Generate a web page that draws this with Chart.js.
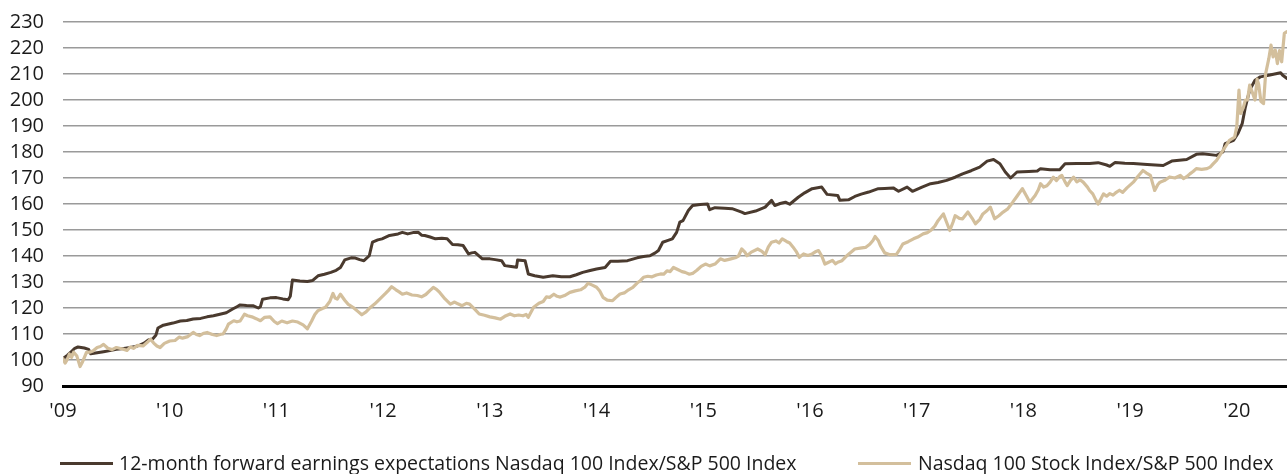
<!DOCTYPE html>
<html>
<head>
<meta charset="utf-8">
<script src="https://cdn.jsdelivr.net/npm/chart.js@4.4.1/dist/chart.umd.min.js"></script>
<style>
  html, body { margin: 0; padding: 0; background: #ffffff; }
  #wrap { position: relative; width: 1287px; height: 474px; overflow: hidden; }
  #c { position: absolute; left: 0; top: 0; }
  .lg-line { position: absolute; height: 3px; width: 53px; }
  .lg-text { position: absolute; font-family: "Open Sans", "Noto Sans", sans-serif; font-size: 19.5px; color: #1a1a1a; white-space: nowrap; line-height: 24px; }
</style>
</head>
<body>
<div id="wrap">
  <canvas id="c" width="1287" height="474"></canvas>
  <div class="lg-line" id="lgl1" style="left:60px; top:462px; background:#4a3a2e;"></div>
  <div class="lg-text" id="lgt1" style="left:119px; top:451px;"></div>
  <div class="lg-line" id="lgl2" style="left:858px; top:462px; background:#d3bf9c;"></div>
  <div class="lg-text" id="lgt2" style="left:918px; top:451px;"></div>
</div>
<script>
const seriesNames = [
  "12-month forward earnings expectations Nasdaq 100 Index/S&P 500 Index",
  "Nasdaq 100 Stock Index/S&P 500 Index"
];
const yTicks = [90,100,110,120,130,140,150,160,170,180,190,200,210,220,230];
const xTickYears = [2009,2010,2011,2012,2013,2014,2015,2016,2017,2018,2019,2020];

const earningsDates = [2009.00,2009.04,2009.07,2009.11,2009.14,2009.20,2009.24,2009.26,2009.32,2009.38,2009.44,2009.50,2009.57,2009.63,2009.68,2009.72,2009.76,2009.80,2009.84,2009.87,2009.89,2009.94,2010.03,2010.10,2010.16,2010.22,2010.29,2010.35,2010.41,2010.47,2010.53,2010.59,2010.63,2010.66,2010.72,2010.78,2010.83,2010.85,2010.87,2010.94,2011.00,2011.06,2011.11,2011.13,2011.15,2011.22,2011.29,2011.34,2011.39,2011.45,2011.51,2011.56,2011.60,2011.64,2011.70,2011.74,2011.78,2011.82,2011.87,2011.90,2011.95,2011.99,2012.06,2012.10,2012.14,2012.18,2012.23,2012.28,2012.33,2012.36,2012.39,2012.44,2012.49,2012.55,2012.60,2012.65,2012.70,2012.75,2012.80,2012.83,2012.86,2012.93,2013.00,2013.05,2013.11,2013.14,2013.20,2013.25,2013.26,2013.33,2013.36,2013.42,2013.50,2013.59,2013.67,2013.75,2013.81,2013.87,2013.94,2014.00,2014.08,2014.13,2014.20,2014.29,2014.38,2014.44,2014.50,2014.55,2014.58,2014.62,2014.67,2014.71,2014.75,2014.78,2014.81,2014.86,2014.90,2014.97,2015.04,2015.06,2015.11,2015.20,2015.27,2015.36,2015.39,2015.49,2015.58,2015.64,2015.67,2015.72,2015.77,2015.81,2015.89,2015.95,2016.02,2016.11,2016.16,2016.26,2016.28,2016.36,2016.42,2016.48,2016.55,2016.64,2016.70,2016.78,2016.83,2016.91,2016.96,2017.05,2017.13,2017.20,2017.28,2017.36,2017.43,2017.51,2017.59,2017.66,2017.72,2017.78,2017.83,2017.88,2017.94,2018.05,2018.13,2018.16,2018.25,2018.34,2018.39,2018.50,2018.62,2018.70,2018.78,2018.81,2018.86,2018.95,2019.03,2019.16,2019.31,2019.39,2019.53,2019.62,2019.68,2019.81,2019.87,2019.89,2019.97,2020.01,2020.05,2020.08,2020.12,2020.17,2020.22,2020.31,2020.41,2020.43,2020.47];
const earningsValues = [100.5,101.8,102.9,104.5,105.0,104.6,104.1,102.4,102.8,103.2,103.6,104.1,104.4,104.8,105.2,105.7,106.5,107.7,108.1,109.5,112.3,113.4,114.2,115.0,115.2,115.8,116.0,116.6,117.0,117.6,118.2,119.6,120.5,121.2,121.0,120.9,120.0,120.5,123.4,123.9,124.0,123.5,123.2,124.5,130.8,130.4,130.2,130.6,132.4,133.0,133.7,134.5,135.6,138.5,139.3,139.2,138.6,138.2,140.1,145.3,146.2,146.6,147.9,148.2,148.5,149.1,148.5,149.0,149.1,148.0,147.9,147.3,146.6,146.8,146.6,144.4,144.3,144.0,140.8,141.2,141.4,138.9,138.9,138.6,138.2,136.3,136.0,135.7,138.5,138.2,133.1,132.4,131.8,132.4,132.0,132.0,132.8,133.7,134.4,135.0,135.6,138.0,138.0,138.2,139.3,139.8,140.1,141.2,142.1,145.3,146.0,146.6,149.1,153.0,153.6,157.5,159.4,159.8,160.0,157.8,158.6,158.4,158.2,156.9,156.3,157.3,158.8,161.4,159.4,160.2,160.7,159.9,162.6,164.3,165.9,166.5,163.7,163.3,161.4,161.6,162.9,163.8,164.6,165.9,166.0,166.2,164.9,166.5,164.9,166.5,167.8,168.3,169.1,170.3,171.6,172.8,174.2,176.5,177.1,175.5,172.3,170.0,172.3,172.5,172.7,173.6,173.2,173.2,175.5,175.6,175.6,175.9,175.0,174.5,176.0,175.7,175.6,175.2,174.8,176.5,177.1,179.1,179.3,178.7,180.0,183.2,184.5,187.1,190.9,197.3,203.8,207.6,208.9,209.6,210.5,209.5,208.3];

const priceDates = [2009.00,2009.02,2009.04,2009.06,2009.08,2009.10,2009.13,2009.16,2009.18,2009.22,2009.25,2009.28,2009.32,2009.35,2009.38,2009.42,2009.46,2009.50,2009.55,2009.60,2009.63,2009.66,2009.70,2009.75,2009.79,2009.82,2009.85,2009.88,2009.91,2009.95,2010.00,2010.05,2010.09,2010.12,2010.17,2010.22,2010.25,2010.28,2010.32,2010.35,2010.40,2010.44,2010.48,2010.50,2010.53,2010.55,2010.60,2010.63,2010.66,2010.70,2010.73,2010.77,2010.81,2010.85,2010.89,2010.94,2010.98,2011.01,2011.05,2011.10,2011.15,2011.20,2011.25,2011.29,2011.33,2011.36,2011.39,2011.43,2011.46,2011.50,2011.53,2011.55,2011.57,2011.60,2011.64,2011.67,2011.72,2011.76,2011.80,2011.84,2011.88,2011.92,2011.97,2012.02,2012.05,2012.08,2012.12,2012.15,2012.18,2012.22,2012.27,2012.32,2012.36,2012.40,2012.44,2012.47,2012.50,2012.53,2012.58,2012.63,2012.67,2012.70,2012.74,2012.78,2012.81,2012.86,2012.90,2012.95,2013.00,2013.05,2013.10,2013.14,2013.19,2013.23,2013.27,2013.31,2013.34,2013.36,2013.41,2013.46,2013.50,2013.53,2013.56,2013.60,2013.63,2013.66,2013.70,2013.75,2013.80,2013.85,2013.89,2013.92,2013.96,2014.00,2014.03,2014.06,2014.10,2014.15,2014.18,2014.22,2014.26,2014.30,2014.34,2014.38,2014.41,2014.44,2014.48,2014.52,2014.56,2014.60,2014.63,2014.66,2014.69,2014.72,2014.76,2014.80,2014.83,2014.87,2014.90,2014.94,2014.98,2015.02,2015.06,2015.11,2015.16,2015.20,2015.25,2015.30,2015.33,2015.36,2015.39,2015.41,2015.45,2015.51,2015.55,2015.58,2015.61,2015.64,2015.68,2015.71,2015.74,2015.78,2015.81,2015.84,2015.87,2015.90,2015.94,2015.98,2016.02,2016.05,2016.08,2016.11,2016.14,2016.17,2016.21,2016.24,2016.26,2016.30,2016.33,2016.37,2016.42,2016.47,2016.52,2016.56,2016.59,2016.61,2016.64,2016.66,2016.70,2016.75,2016.81,2016.84,2016.87,2016.92,2016.97,2017.01,2017.06,2017.10,2017.13,2017.17,2017.20,2017.25,2017.28,2017.31,2017.34,2017.36,2017.40,2017.43,2017.48,2017.52,2017.55,2017.59,2017.62,2017.66,2017.69,2017.73,2017.77,2017.81,2017.85,2017.90,2017.94,2017.99,2018.03,2018.06,2018.11,2018.14,2018.16,2018.19,2018.22,2018.25,2018.28,2018.31,2018.34,2018.36,2018.39,2018.41,2018.44,2018.47,2018.50,2018.53,2018.56,2018.60,2018.62,2018.65,2018.68,2018.70,2018.73,2018.75,2018.78,2018.81,2018.84,2018.87,2018.90,2018.93,2018.97,2019.03,2019.07,2019.12,2019.15,2019.19,2019.21,2019.23,2019.26,2019.28,2019.32,2019.37,2019.42,2019.47,2019.50,2019.53,2019.56,2019.59,2019.62,2019.67,2019.72,2019.75,2019.78,2019.81,2019.84,2019.87,2019.90,2019.93,2019.96,2019.98,2020.00,2020.02,2020.035,2020.06,2020.08,2020.10,2020.12,2020.145,2020.17,2020.19,2020.205,2020.225,2020.25,2020.27,2020.30,2020.32,2020.34,2020.36,2020.38,2020.40,2020.42,2020.445,2020.47];
const priceValues = [100.5,98.8,100.2,102.3,101.0,103.0,101.5,97.5,99.0,102.9,103.0,103.5,104.8,105.2,106.0,104.5,104.0,104.8,104.3,103.7,105.0,104.5,105.6,105.4,106.8,108.0,106.5,105.4,104.8,106.4,107.3,107.5,108.8,108.4,109.0,110.6,109.8,109.4,110.3,110.6,109.8,109.4,109.9,110.0,112.0,113.8,115.1,114.7,115.0,117.6,117.0,116.6,115.9,115.1,116.4,116.6,114.8,114.0,115.0,114.3,115.0,114.6,113.5,112.0,115.0,117.5,119.0,119.8,120.3,122.5,125.6,123.8,123.4,125.3,123.0,121.5,120.2,118.8,117.4,118.5,120.2,121.5,123.5,125.5,126.8,128.2,127.0,126.2,125.3,125.8,125.0,124.8,124.3,125.2,126.8,127.9,127.2,126.0,123.5,121.5,122.3,121.6,120.9,121.8,121.5,119.5,117.7,117.2,116.6,116.2,115.7,116.8,117.7,117.0,117.3,117.0,117.5,116.4,120.3,121.8,122.5,124.3,124.1,125.3,124.5,124.2,124.8,126.0,126.6,127.0,128.0,129.5,128.8,128.0,126.5,124.1,123.0,122.8,124.0,125.4,125.8,127.0,127.9,129.6,130.5,131.8,132.2,132.0,132.7,133.1,133.0,134.3,134.0,135.6,134.8,134.0,133.7,133.0,133.3,134.5,136.0,136.9,136.2,136.9,138.9,138.3,138.8,139.3,140.0,142.7,141.5,140.1,141.5,142.7,141.8,140.5,143.5,145.3,145.8,145.0,146.6,145.6,145.0,143.5,141.8,139.5,140.8,140.2,140.8,141.6,142.1,140.0,136.9,137.5,138.3,137.0,137.6,138.2,139.5,141.0,142.7,143.0,143.3,144.5,146.0,147.5,146.0,144.0,141.2,140.5,140.6,142.5,144.6,145.5,146.6,147.3,148.5,149.0,149.8,151.5,153.6,156.2,153.0,149.8,153.0,155.5,154.5,154.3,156.9,154.5,152.4,154.0,156.2,157.5,158.8,154.3,155.5,156.9,158.0,160.7,163.0,165.9,163.0,160.7,163.3,165.5,167.8,166.5,167.0,168.4,170.3,169.0,170.5,171.0,168.5,167.1,169.0,170.3,168.5,169.3,168.4,166.5,165.2,163.9,161.4,160.0,162.3,163.9,163.0,164.0,163.4,164.5,165.3,164.5,166.2,168.4,170.5,172.9,172.0,171.0,168.0,165.2,167.5,168.4,169.0,170.4,170.0,171.0,169.8,170.5,171.6,172.5,173.6,173.3,173.6,174.2,175.5,176.8,178.7,180.6,182.5,184.5,185.2,185.8,190.0,203.8,194.8,197.0,200.0,200.0,205.7,203.0,200.0,208.0,206.0,199.5,198.6,210.2,216.0,221.1,216.6,219.2,214.0,219.0,214.7,225.6,226.3];

const darkColor = '#4a3a2e';
const lightColor = '#d3bf9c';
const fontFamily = '"Open Sans", "Noto Sans", sans-serif';

document.getElementById('lgt1').textContent = seriesNames[0];
document.getElementById('lgt2').textContent = seriesNames[1];

const toPts = (xs, ys) => xs.map((x, i) => ({ x: x, y: ys[i] }));

new Chart(document.getElementById('c'), {
  type: 'line',
  data: {
    datasets: [
      {
        label: seriesNames[0],
        data: toPts(earningsDates, earningsValues),
        borderColor: darkColor,
        backgroundColor: darkColor,
        borderWidth: 3,
        pointRadius: 0,
        tension: 0,
        order: 1
      },
      {
        label: seriesNames[1],
        data: toPts(priceDates, priceValues),
        borderColor: lightColor,
        backgroundColor: lightColor,
        borderWidth: 3.2,
        pointRadius: 0,
        tension: 0,
        order: 0
      }
    ]
  },
  options: {
    responsive: false,
    animation: false,
    devicePixelRatio: 1,
    layout: { padding: { top: 0, right: 0, bottom: 38, left: 0 } },
    elements: { line: { borderJoinStyle: 'round', borderCapStyle: 'round' } },
    plugins: { legend: { display: false }, tooltip: { enabled: false } },
    scales: {
      x: {
        type: 'linear',
        min: 2009,
        max: 2020.47,
        afterBuildTicks: (scale) => { scale.ticks = xTickYears.map(v => ({ value: v })); },
        ticks: {
          autoSkip: false,
          maxRotation: 0,
          padding: 13,
          color: '#1a1a1a',
          font: { family: fontFamily, size: 20 },
          callback: (v) => "'" + String(v).slice(2)
        },
        grid: { display: false, drawTicks: false },
        border: { display: true, color: '#000000', width: 3 }
      },
      y: {
        min: 90,
        max: 230,
        afterBuildTicks: (scale) => { scale.ticks = yTicks.map(v => ({ value: v })); },
        afterFit: (scale) => { scale.width = 63; scale.paddingTop = 22; scale.paddingBottom = 0; },
        ticks: {
          autoSkip: false,
          padding: 19,
          color: '#1a1a1a',
          font: { family: fontFamily, size: 20 }
        },
        grid: { color: '#9a9a9a', lineWidth: 1.5, drawTicks: false },
        border: { display: false }
      }
    }
  }
});
</script>
</body>
</html>
